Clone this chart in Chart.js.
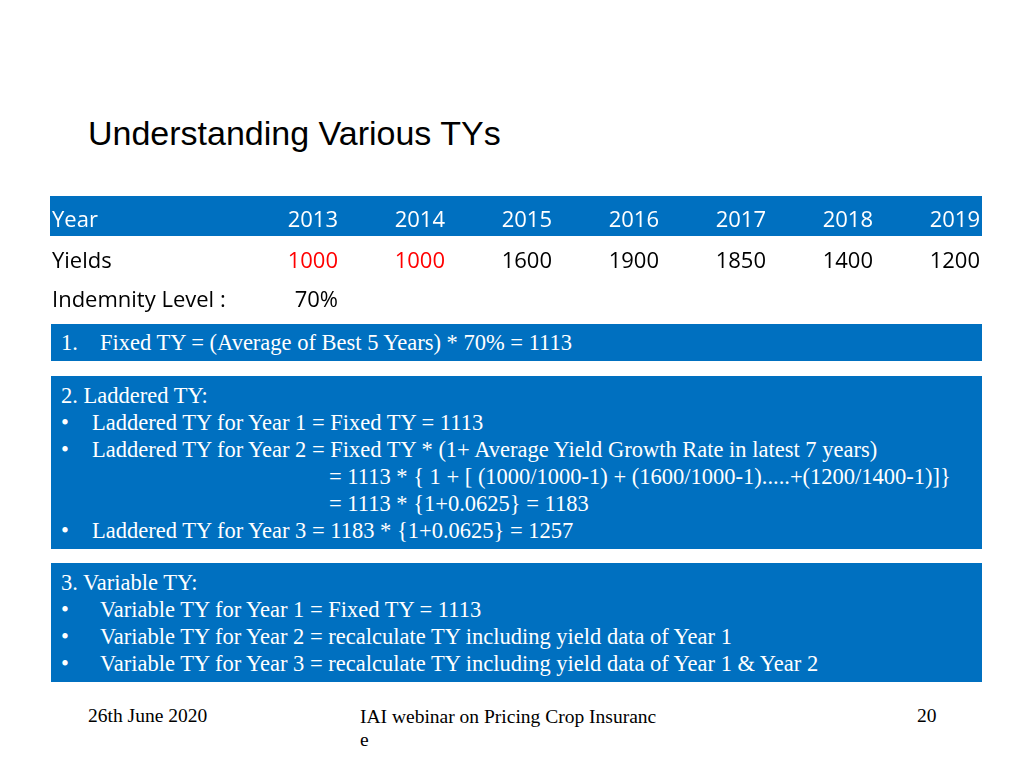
<!DOCTYPE html>
<html><head><meta charset="utf-8">
<script src="https://cdn.jsdelivr.net/npm/chart.js@4"></script>
<style>
body{margin:0;width:1024px;height:768px;background:#fff;position:relative;overflow:hidden;font-family:"Liberation Serif",serif;}
.t{position:absolute;}
.box{position:absolute;left:51px;width:931px;background:#0070c0;color:#fff;font-size:22.5px;box-sizing:border-box;}
.box div{position:absolute;white-space:pre;line-height:27px;}
.b{position:absolute;}
</style></head><body>
<div class="t" style="left:88px;top:114px;font-family:'Liberation Sans',sans-serif;font-size:34px;">Understanding Various TYs</div>
<div class="t" style="left:50px;top:196px;width:932px;height:124px;"><canvas id="c" width="932" height="124"></canvas></div>
<div class="box" style="top:324px;height:37px;"><div style="left:10px;top:5px">1.</div><div style="left:49px;top:5px">Fixed TY = (Average of Best 5 Years) * 70% = 1113</div></div>
<div class="box" style="top:376px;height:173px;">
<div style="left:10px;top:6px">2. Laddered TY:</div>
<div style="left:10px;top:33px">•</div><div style="left:41px;top:33px">Laddered TY for Year 1 = Fixed TY = 1113</div>
<div style="left:10px;top:60px">•</div><div style="left:41px;top:60px">Laddered TY for Year 2 = Fixed TY * (1+ Average Yield Growth Rate in latest 7 years)</div>
<div style="left:278px;top:87px">= 1113 * { 1 + [ (1000/1000-1) + (1600/1000-1).....+(1200/1400-1)]}</div>
<div style="left:278px;top:114px">= 1113 * {1+0.0625} = 1183</div>
<div style="left:10px;top:141px">•</div><div style="left:41px;top:141px">Laddered TY for Year 3 = 1183 * {1+0.0625} = 1257</div>
</div>
<div class="box" style="top:563px;height:119px;">
<div style="left:10px;top:6px">3. Variable TY:</div>
<div style="left:10px;top:33px">•</div><div style="left:49px;top:33px">Variable TY for Year 1 = Fixed TY = 1113</div>
<div style="left:10px;top:60px">•</div><div style="left:49px;top:60px">Variable TY for Year 2 = recalculate TY including yield data of Year 1</div>
<div style="left:10px;top:87px">•</div><div style="left:49px;top:87px">Variable TY for Year 3 = recalculate TY including yield data of Year 1 &amp; Year 2</div>
</div>
<div class="t" style="left:88px;top:705px;font-size:19.5px;">26th June 2020</div>
<div class="t" style="left:360px;top:705px;font-size:19.5px;width:320px;line-height:23px;">IAI webinar on Pricing Crop Insuranc<br>e</div>
<div class="t" style="left:917px;top:705px;font-size:19.5px;">20</div>
<script>
const years = ["2013","2014","2015","2016","2017","2018","2019"];
const yields = [1000,1000,1600,1900,1850,1400,1200];
const yieldColors = ["#ff0000","#ff0000","#000","#000","#000","#000","#000"];
const indemnity = "70%";
const tablePlugin = {
  id:'table',
  afterDraw(chart){
    const ctx = chart.ctx, x = chart.scales.x, W = chart.width;
    ctx.save();
    ctx.fillStyle = '#0070c0';
    ctx.fillRect(0,0,W,40);
    ctx.font = '22px "Open Sans", Lato, sans-serif';
    ctx.textBaseline = 'middle';
    ctx.textAlign = 'left';
    ctx.fillStyle = '#fff'; ctx.fillText('Year',2,25);
    ctx.fillStyle = '#000'; ctx.fillText('Yields',2,66); ctx.fillText('Indemnity Level :',2,105);
    ctx.textAlign = 'right';
    years.forEach((y,i)=>{
      const px = x.getPixelForValue(i);
      ctx.fillStyle='#fff'; ctx.fillText(y,px,25);
      ctx.fillStyle=yieldColors[i]; ctx.fillText(String(yields[i]),px,66);
    });
    ctx.fillStyle='#000'; ctx.fillText(indemnity,x.getPixelForValue(0),105);
    ctx.restore();
  }
};
new Chart(document.getElementById('c'),{
  type:'line',
  data:{labels:years,datasets:[{data:yields,showLine:false,pointRadius:0}]},
  options:{responsive:false,animation:false,
    layout:{padding:{left:288,right:2,top:0,bottom:0}},
    plugins:{legend:{display:false},tooltip:{enabled:false}},
    scales:{x:{display:false,offset:false},y:{display:false}}},
  plugins:[tablePlugin]
});
</script>
</body></html>
